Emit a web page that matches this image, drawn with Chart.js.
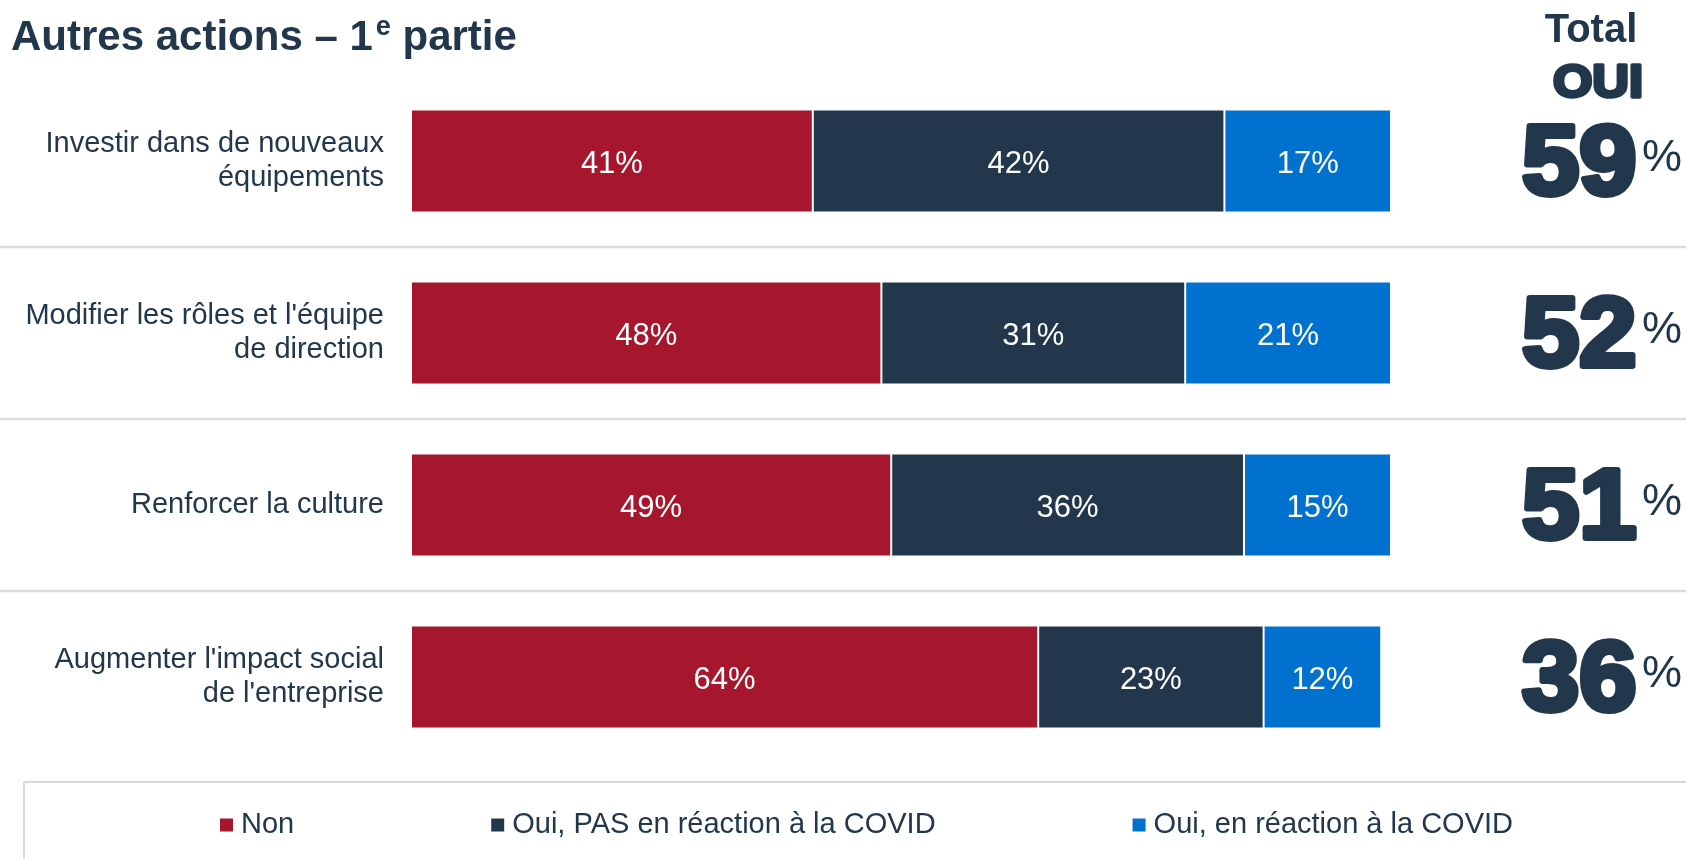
<!DOCTYPE html>
<html lang="fr">
<head>
<meta charset="utf-8">
<title>Autres actions – 1e partie</title>
<script src="https://cdn.jsdelivr.net/npm/chart.js@4.4.1/dist/chart.umd.min.js"></script>
<style>
    html, body { margin: 0; padding: 0; background: #fff; }
    #cadre { position: relative; width: 1686px; height: 859px; }
</style>
</head>
<body>
<div id="cadre"><canvas id="graficoActions"></canvas></div>
<script>

const categories = [
    ['Investir dans de nouveaux', 'équipements'],
    ["Modifier les rôles et l'équipe", 'de direction'],
    'Renforcer la culture',
    ["Augmenter l'impact social", "de l'entreprise"]
];
const seriesNoms = ['Non', 'Oui, PAS en réaction à la COVID', 'Oui, en réaction à la COVID'];
const valeursNon = [41, 48, 49, 64];
const valeursOuiHorsCovid = [42, 31, 36, 23];
const valeursOuiCovid = [17, 21, 15, 12];
const totalOui = [59, 52, 51, 36];
const couleurs = ['#A6172D', '#22374B', '#0071CE'];

const police = "'Liberation Sans', Arial, sans-serif";
const bleuTexte = '#22374B';

// titre, séparateurs, étiquettes des barres, colonne "Total OUI" et légende
const habillage = {
    id: 'habillage',
    beforeDatasetsDraw(chart) {
        const ctx = chart.ctx;
        const y = chart.scales.y;
        ctx.save();
        ctx.strokeStyle = '#DCDCDC';
        ctx.lineWidth = 2.5;
        for (let i = 0; i < categories.length - 1; i++) {
            const yy = (y.getPixelForValue(i) + y.getPixelForValue(i + 1)) / 2;
            ctx.beginPath();
            ctx.moveTo(0, yy);
            ctx.lineTo(chart.width, yy);
            ctx.stroke();
        }
        ctx.restore();
    },
    afterDatasetsDraw(chart) {
        const ctx = chart.ctx;
        ctx.save();
        ctx.font = '31px ' + police;
        ctx.fillStyle = '#fff';
        ctx.textAlign = 'center';
        ctx.textBaseline = 'middle';
        chart.data.datasets.forEach((ds, i) => {
            chart.getDatasetMeta(i).data.forEach((barre, j) => {
                ctx.fillText(ds.data[j] + '%', (barre.x + barre.base) / 2, barre.y + 3);
            });
        });
        ctx.restore();
    },
    afterDraw(chart) {
        const ctx = chart.ctx;
        const yScale = chart.scales.y;
        const droite = chart.chartArea.right;
        ctx.save();
        ctx.fillStyle = bleuTexte;
        ctx.strokeStyle = bleuTexte;
        ctx.lineJoin = 'round';
        ctx.textBaseline = 'alphabetic';

        // titre avec "e" en exposant
        ctx.textAlign = 'left';
        ctx.font = 'bold 42px ' + police;
        let x = 11;
        ctx.fillText('Autres actions – 1', x, 50);
        x += ctx.measureText('Autres actions – 1').width + 3;
        ctx.font = 'bold 27px ' + police;
        ctx.fillText('e', x, 35);
        x += ctx.measureText('e').width;
        ctx.font = 'bold 42px ' + police;
        ctx.fillText(' partie', x, 50);

        // en-tête de la colonne des totaux
        ctx.textAlign = 'center';
        ctx.font = 'bold 40px ' + police;
        ctx.fillText('Total', droite + 200, 42);
        ctx.save();
        ctx.translate(droite + 207, 97);
        ctx.scale(1.08, 1);
        ctx.font = 'bold 47px ' + police;
        ctx.lineWidth = 3.5;
        ctx.strokeText('OUI', 0, 0);
        ctx.fillText('OUI', 0, 0);
        ctx.restore();

        totalOui.forEach((v, i) => {
            const yc = yScale.getPixelForValue(i);
            ctx.save();
            ctx.translate(droite + 131, yc + 33);
            ctx.scale(1.05, 1);
            ctx.textAlign = 'left';
            ctx.font = 'bold 98px ' + police;
            ctx.lineWidth = 6;
            ctx.strokeText(String(v), 0, 0);
            ctx.fillText(String(v), 0, 0);
            ctx.restore();
            ctx.textAlign = 'left';
            ctx.font = '45px ' + police;
            ctx.fillText('%', droite + 251, yc + 10);
        });

        // cadre et légende en bas
        ctx.strokeStyle = '#DADADA';
        ctx.lineWidth = 2;
        ctx.beginPath();
        ctx.moveTo(24, chart.height);
        ctx.lineTo(24, 782);
        ctx.lineTo(chart.width, 782);
        ctx.stroke();

        const yLeg = 825;
        let xl = 220;
        ctx.font = '29px ' + police;
        ctx.textBaseline = 'middle';
        ctx.textAlign = 'left';
        chart.data.datasets.forEach(ds => {
            ctx.fillStyle = ds.backgroundColor;
            ctx.fillRect(xl, yLeg - 6.5, 13, 13);
            ctx.fillStyle = bleuTexte;
            ctx.fillText(ds.label, xl + 21, yLeg);
            xl += 21 + ctx.measureText(ds.label).width + 197;
        });
        ctx.restore();
    }
};

const valeursSeries = [valeursNon, valeursOuiHorsCovid, valeursOuiCovid];

const ctx = document.getElementById('graficoActions').getContext('2d');
const graficoActions = new Chart(ctx, {
    type: 'bar',
    data: {
        labels: categories,
        datasets: seriesNoms.map((nom, i) => ({
            label: nom,
            data: valeursSeries[i],
            backgroundColor: couleurs[i]
        }))
    },
    options: {
        indexAxis: 'y',
        responsive: true,
        maintainAspectRatio: false,
        animation: false,
        layout: {
            padding: { left: 0, right: 295, top: 75, bottom: 96 }
        },
        datasets: {
            bar: {
                barPercentage: 0.6,
                categoryPercentage: 1,
                borderWidth: 1,
                borderColor: '#fff',
                borderSkipped: false
            }
        },
        plugins: {
            legend: { display: false },
            tooltip: { enabled: false }
        },
        scales: {
            x: {
                stacked: true,
                min: 0,
                max: 100,
                display: false
            },
            y: {
                stacked: true,
                grid: { display: false, drawTicks: false },
                border: { display: false },
                ticks: {
                    color: bleuTexte,
                    padding: 27,
                    font: { size: 29, family: police, lineHeight: 1.14 }
                },
                afterFit(scale) {
                    scale.width = 411;
                }
            }
        }
    },
    plugins: [habillage]
});
</script>
</body>
</html>
